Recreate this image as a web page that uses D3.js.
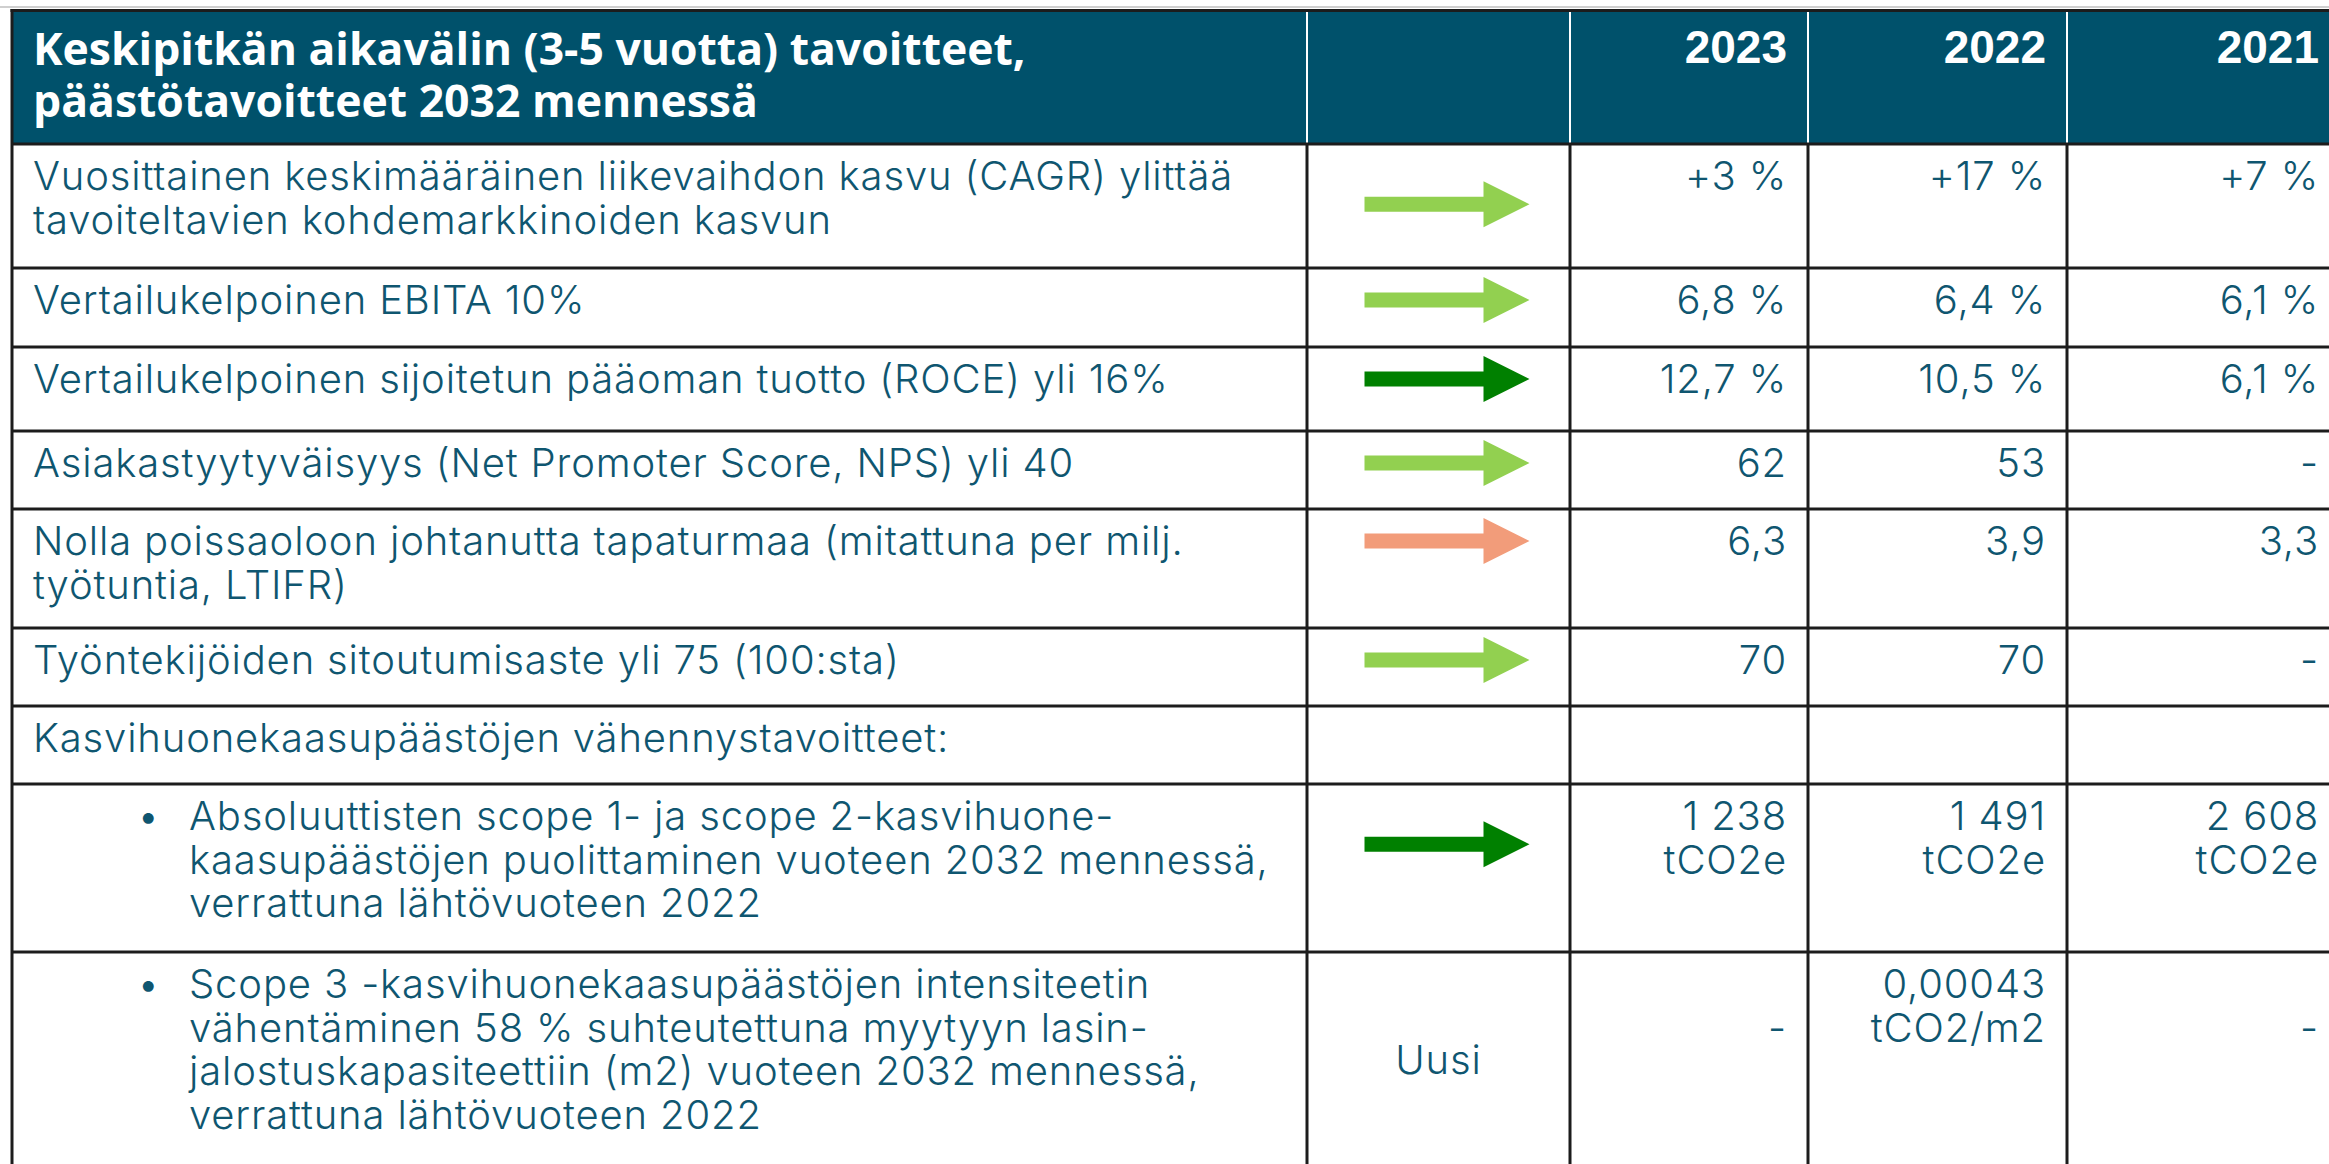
<!DOCTYPE html>
<html>
<head>
<meta charset="utf-8">
<script src="https://cdn.jsdelivr.net/npm/d3@7"></script>
<style>
body{margin:0;background:#fff;overflow:hidden;}
svg{display:block;}
.hd{font-family:"Open Sans","Noto Sans",sans-serif;font-weight:700;fill:#fff;}
.yr{font-family:"Liberation Sans",Arial,sans-serif;font-weight:700;fill:#fff;}
.bd{font-family:Inter,Roboto,sans-serif;font-weight:300;fill:#0f5670;letter-spacing:0.85px;}
</style>
</head>
<body>
<div id="table"></div>
<script>
// header of the first column
var headerLines = ["Keskipitkän aikavälin (3-5 vuotta) tavoitteet,", "päästötavoitteet 2032 mennessä"];
var years = ["2023", "2022", "2021"];

// target texts, one entry per row (each entry = lines of the cell)
var targets = [
  ["Vuosittainen keskimääräinen liikevaihdon kasvu (CAGR) ylittää", "tavoiteltavien kohdemarkkinoiden kasvun"],
  ["Vertailukelpoinen EBITA 10%"],
  ["Vertailukelpoinen sijoitetun pääoman tuotto (ROCE) yli 16%"],
  ["Asiakastyytyväisyys (Net Promoter Score, NPS) yli 40"],
  ["Nolla poissaoloon johtanutta tapaturmaa (mitattuna per milj.", "työtuntia, LTIFR)"],
  ["Työntekijöiden sitoutumisaste yli 75 (100:sta)"],
  ["Kasvihuonekaasupäästöjen vähennystavoitteet:"],
  ["Absoluuttisten scope 1- ja scope 2-kasvihuone-", "kaasupäästöjen puolittaminen vuoteen 2032 mennessä,", "verrattuna lähtövuoteen 2022"],
  ["Scope 3 -kasvihuonekaasupäästöjen intensiteetin", "vähentäminen 58 % suhteutettuna myytyyn lasin-", "jalostuskapasiteettiin (m2) vuoteen 2032 mennessä,", "verrattuna lähtövuoteen 2022"]
];
var bulleted = [false, false, false, false, false, false, false, true, true];

// trend column: arrow colour class, or a text
var trend = ["light", "light", "dark", "light", "salmon", "light", "", "dark", "Uusi"];

// yearly values (lines of each cell, "" = blank line)
var values2023 = [["+3 %"], ["6,8 %"], ["12,7 %"], ["62"], ["6,3"], ["70"], [], ["1 238", "tCO2e"], ["", "-"]];
var values2022 = [["+17 %"], ["6,4 %"], ["10,5 %"], ["53"], ["3,9"], ["70"], [], ["1 491", "tCO2e"], ["0,00043", "tCO2/m2"]];
var values2021 = [["+7 %"], ["6,1 %"], ["6,1 %"], ["-"], ["3,3"], ["-"], [], ["2 608", "tCO2e"], ["", "-"]];
var values = {"2023": values2023, "2022": values2022, "2021": values2021};

// layout
var W = 2329, H = 1164;
var colEdges = [12, 1307, 1570, 1808, 2067, 2340];
var headTop = 12, headBottom = 144;
var rowHeights = [124, 79, 84, 78, 119, 78, 78, 168, 216];
var arrowLine = [0.65, 0, 0, 0, 0, 0, 0, 0.65, 0];//where the arrow sits, in text lines
var lineGap = 43.5, firstBase = 46, fs = 40;

var colKeys = ["target", "trend"].concat(years);
var xLeft = d3.scaleOrdinal().domain(colKeys).range(colEdges.slice(0, 5));
var xRight = d3.scaleOrdinal().domain(colKeys).range(colEdges.slice(1));
var rowTops = [headBottom].concat(Array.from(d3.cumsum(rowHeights), function(d){ return headBottom + d; }));
var y = d3.scaleOrdinal().domain(d3.range(targets.length)).range(rowTops.slice(0, targets.length));
var arrowColor = d3.scaleOrdinal().domain(["light", "dark", "salmon"]).range(["#92d050", "#008000", "#f29c7a"]);

var svg = d3.select("#table")
  .append("svg")
  .attr("width", W)
  .attr("height", H);

svg.append("rect").attr("width", W).attr("height", H).attr("fill", "#fff");

// header band
svg.append("rect")
  .attr("x", colEdges[0]).attr("y", headTop)
  .attr("width", colEdges[5] - colEdges[0]).attr("height", headBottom - headTop)
  .attr("fill", "#00516b");

svg.append("g").selectAll("text")
  .data(headerLines)
  .enter().append("text")
    .attr("class", "hd")
    .attr("x", 33)
    .attr("y", function(d, i){ return 65 + i * 52; })
    .attr("font-size", 44.5)
    .text(function(d){ return d; });

svg.append("g").selectAll("text")
  .data(years)
  .enter().append("text")
    .attr("class", "yr")
    .attr("x", function(d){ return xRight(d) - 21; })
    .attr("y", 63)
    .attr("text-anchor", "end")
    .attr("font-size", 46)
    .text(function(d){ return d; });

// white separators inside the header
svg.append("g").selectAll("line")
  .data(colEdges.slice(1, 5))
  .enter().append("line")
    .attr("x1", function(d){ return d; }).attr("x2", function(d){ return d; })
    .attr("y1", headTop).attr("y2", headBottom)
    .attr("stroke", "#fff").attr("stroke-width", 2);

// body rows
var row = svg.append("g").selectAll("g")
  .data(targets)
  .enter().append("g")
    .attr("transform", function(d, i){ return "translate(0," + y(i) + ")"; });

row.each(function(lines, i) {
  var g = d3.select(this);
  var tx = bulleted[i] ? 189 : 33;
  if (bulleted[i]) {
    g.append("text").attr("class", "bd").attr("x", 137).attr("y", firstBase)
      .attr("font-size", fs).text("•");
  }
  g.selectAll("text.lbl")
    .data(lines)
    .enter().append("text")
      .attr("class", "bd lbl")
      .attr("x", tx)
      .attr("y", function(d, k){ return firstBase + k * lineGap; })
      .attr("font-size", fs)
      .text(function(d){ return d; });

  var t = trend[i];
  var cx = (xLeft("trend") + xRight("trend")) / 2;
  if (arrowColor.domain().indexOf(t) >= 0) {
    var ay = firstBase - 14 + arrowLine[i] * lineGap;
    var x0 = cx - 74, len = 165, head = 46, shaft = 15;
    var p = d3.path();
    p.moveTo(x0, ay - shaft / 2);
    p.lineTo(x0 + len - head, ay - shaft / 2);
    p.lineTo(x0 + len - head, ay - head / 2);
    p.lineTo(x0 + len, ay);
    p.lineTo(x0 + len - head, ay + head / 2);
    p.lineTo(x0 + len - head, ay + shaft / 2);
    p.lineTo(x0, ay + shaft / 2);
    p.closePath();
    g.append("path").attr("d", p.toString()).attr("fill", arrowColor(t));
  } else if (t) {
    g.append("text").attr("class", "bd")
      .attr("x", cx).attr("y", rowHeights[i] / 2 + 14)
      .attr("text-anchor", "middle").attr("font-size", fs)
      .text(t);
  }

  years.forEach(function(yr) {
    g.append("g").selectAll("text")
      .data(values[yr][i])
      .enter().append("text")
        .attr("class", "bd")
        .attr("x", xRight(yr) - 21)
        .attr("y", function(d, k){ return firstBase + k * lineGap; })
        .attr("text-anchor", "end")
        .attr("font-size", fs)
        .text(function(d){ return d; });
  });
});

// grid lines
svg.append("g").selectAll("line")
  .data(rowTops)
  .enter().append("line")
    .attr("x1", colEdges[0]).attr("x2", colEdges[5])
    .attr("y1", function(d){ return d; }).attr("y2", function(d){ return d; })
    .attr("stroke", "#1c1c1c").attr("stroke-width", 3);

svg.append("g").selectAll("line")
  .data(colEdges.slice(0, 5))
  .enter().append("line")
    .attr("x1", function(d){ return d; }).attr("x2", function(d){ return d; })
    .attr("y1", function(d, i){ return i == 0 ? headTop - 3 : headBottom; }).attr("y2", H + 10)
    .attr("stroke", "#1c1c1c").attr("stroke-width", 3);

svg.append("line")//top border
  .attr("x1", colEdges[0] - 1.5).attr("x2", W)
  .attr("y1", headTop - 1.5).attr("y2", headTop - 1.5)
  .attr("stroke", "#1c1c1c").attr("stroke-width", 3);
svg.append("line")
  .attr("x1", 0).attr("x2", W).attr("y1", 7).attr("y2", 7)
  .attr("stroke", "#cfcfcf").attr("stroke-width", 2);
</script>
</body>
</html>
